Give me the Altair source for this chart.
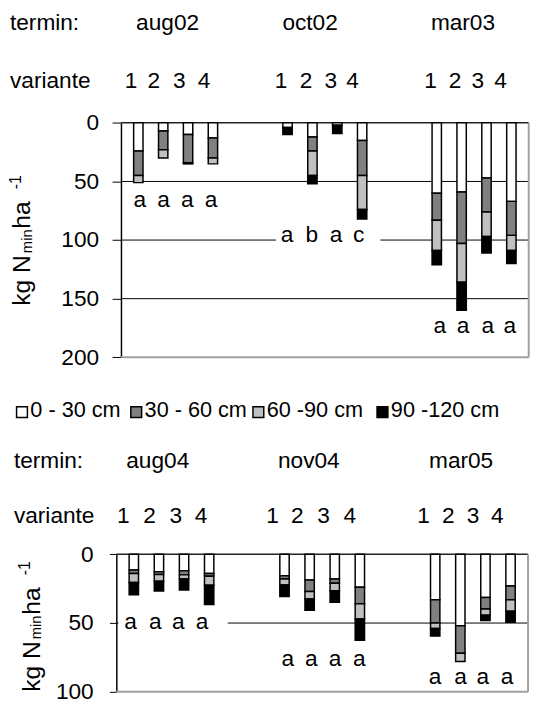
import altair as alt
import pandas as pd

# ---------------- data ----------------
depths = ["0 - 30 cm", "30 - 60 cm", "60 -90 cm", "90 -120 cm"]
depth_colors = ["#ffffff", "#808080", "#c0c0c0", "#000000"]
variants = [1, 2, 3, 4]

top_termine = ["aug02", "oct02", "mar03"]
aug02 = [[24, 21, 6, 0], [7, 16, 7, 0], [10, 24, 0, 1], [13, 17, 5, 0]]
oct02 = [[4, 0, 0, 6], [12, 12, 21, 7], [2, 0, 0, 7], [15, 30, 29, 8]]
mar03 = [[60, 23, 26, 12], [59, 44, 33, 24], [47, 29, 21, 14], [67, 29, 13, 11]]
top_letters = [["a", "a", "a", "a"], ["a", "b", "a", "c"], ["a", "a", "a", "a"]]

bottom_termine = ["aug04", "nov04", "mar05"]
aug04 = [[11.5, 2.5, 6.5, 9], [12.7, 2, 5, 7], [12, 3, 3, 8], [14, 2, 6.5, 14]]
nov04 = [[15.6, 2.4, 4.3, 8.4], [18.7, 8.4, 5.5, 8.2], [18, 3, 5.5, 8.4], [24, 12, 11, 15.5]]
mar05 = [[33, 17, 4, 5.5], [52, 20, 6, 0], [31.4, 8.4, 4.6, 3.8], [23, 10, 8.5, 8]]
bottom_letters = [["a", "a", "a", "a"], ["a", "a", "a", "a"], ["a", "a", "a", "a"]]

top_ticks = [0, 50, 100, 150, 200]
bottom_ticks = [0, 50, 100]

# ---------------- layout (annotation placement) ----------------
FONT = "Liberation Sans"
FS = 23
LEG_FS = 22
W, H = 414, 694
TOP_X = alt.Scale(domain=[0, 16], range=[0, 414], nice=False, zero=False)
BOT_X = alt.Scale(domain=[0, 16], range=[-4.7, 413.3], nice=False, zero=False)
TOP_Y = alt.Scale(domain=[0, 200], range=[111.3, 349.3], nice=False, zero=False)
BOT_Y = alt.Scale(domain=[0, 100], range=[549.3, 689], nice=False, zero=False)

top_head = dict(termin_y=17.5, variante_y=76, row_x=-112.7,
                label_x=[1.83, 7.42, 13.42],
                digit_x=[0.40, 1.29, 2.29, 3.26, 6.28, 7.26, 8.23, 9.09, 12.15, 13.11, 14.0, 14.89],
                letter_x=[0.74, 1.67, 2.60, 3.53, 6.52, 7.49, 8.44, 9.33, 12.51, 13.42, 14.39, 15.26],
                letter_y=[66] * 4 + [95.5] * 4 + [173] * 4)
bot_head = dict(termin_y=462, variante_y=517.5, row_x=-108.7,
                label_x=[1.61, 7.48, 13.40],
                digit_x=[0.27, 1.29, 2.31, 3.29, 6.07, 7.03, 8.05, 9.07, 11.94, 12.90, 13.86, 14.81],
                letter_x=[0.55, 1.51, 2.41, 3.33, 6.66, 7.58, 8.50, 9.44, 12.39, 13.38, 14.24, 15.18],
                letter_y=[49.5] * 4 + [76.5] * 4 + [89] * 4)

legend_sym_x = [-106, 10, 134, 260]
legend_sym_size = 11
legend_sym_y = 399.5
legend_label_gap = 3
legend_label_y = 410.3

fill_scale = alt.Scale(domain=depths, range=depth_colors)


def bars_df(termine, groups):
    rows = []
    for g, (term, vals) in enumerate(zip(termine, groups)):
        for v, segs in zip(variants, vals):
            cum = 0
            for d, seg in zip(depths, segs):
                if seg > 0:
                    rows.append(dict(termin=term, variante=v, depth=d, value=seg,
                                     y0=cum, y1=cum + seg, pos=g * 6 + v - 0.5))
                cum += seg
    return pd.DataFrame(rows)


def frame_df(ymax, grid):
    rows = [dict(x=0, x2=16, y=g, y2=g, c="#000000", w=1) for g in grid]
    rows += [dict(x=0, x2=16, y=0, y2=0, c="#222222", w=1.5),
             dict(x=0, x2=16, y=ymax, y2=ymax, c="#a0a0a0", w=2),
             dict(x=16, x2=16, y=0, y2=ymax, c="#a0a0a0", w=2)]
    return pd.DataFrame(rows)


def panel(termine, groups, letters, head, xs, ys, ticks, ymax, grid, tick_size, label_pad, offset, box):
    frame = alt.Chart(frame_df(ymax, grid)).mark_rule().encode(
        x=alt.X("x:Q", scale=xs, axis=None), x2="x2:Q",
        y=alt.Y("y:Q", scale=ys, axis=None), y2="y2:Q",
        color=alt.Color("c:N", scale=None),
        strokeWidth=alt.StrokeWidth("w:Q", scale=None))
    boxes = alt.Chart(pd.DataFrame([box])).mark_rect(fill="white").encode(
        x=alt.X("x:Q", scale=xs, axis=None), x2="x2:Q",
        y=alt.Y("y:Q", scale=ys, axis=None), y2="y2:Q")
    bars = alt.Chart(bars_df(termine, groups)).mark_bar(width=9.5, stroke="black", strokeWidth=1.5).encode(
        x=alt.X("pos:Q", scale=xs, axis=None),
        y=alt.Y("y0:Q", scale=ys, axis=alt.Axis(
            orient="left", values=ticks, grid=False, domainColor="black", domainWidth=1.5,
            tickColor="black", tickSize=tick_size, tickWidth=1, labelFont=FONT, labelFontSize=FS,
            labelColor="black", labelPadding=label_pad, offset=offset, title=None)),
        y2="y1:Q",
        fill=alt.Fill("depth:N", scale=fill_scale, legend=None),
        tooltip=["termin:N", "variante:O", "depth:N", "value:Q"])
    flat_letters = [l for grp in letters for l in grp]
    let_df = pd.DataFrame(dict(t=flat_letters, x=head["letter_x"], y=head["letter_y"]))
    lets = alt.Chart(let_df).mark_text(font=FONT, fontSize=FS, color="black", baseline="middle").encode(
        x=alt.X("x:Q", scale=xs, axis=None), y=alt.Y("y:Q", scale=ys, axis=None), text="t:N")
    hdr_rows = [dict(t=term, x=lx, y=head["termin_y"]) for term, lx in zip(termine, head["label_x"])]
    hdr_rows += [dict(t=str(v), x=dx, y=head["variante_y"])
                 for v, dx in zip(variants * 3, head["digit_x"])]
    hdr = alt.Chart(pd.DataFrame(hdr_rows)).mark_text(font=FONT, fontSize=FS, color="black",
                                                      baseline="alphabetic").encode(
        x=alt.X("x:Q", scale=xs, axis=None), y=alt.Y("y:Q", scale=None, axis=None), text="t:N")
    row_df = pd.DataFrame([dict(t="termin:", x=head["row_x"], y=head["termin_y"]),
                           dict(t="variante", x=head["row_x"], y=head["variante_y"])])
    rowt = alt.Chart(row_df).mark_text(font=FONT, fontSize=FS, color="black", align="left",
                                       baseline="alphabetic").encode(
        x=alt.X("x:Q", scale=None, axis=None), y=alt.Y("y:Q", scale=None, axis=None), text="t:N")
    return [frame, boxes, bars, lets, hdr, rowt]


top_layers = panel(top_termine, [aug02, oct02, mar03], top_letters, top_head, TOP_X, TOP_Y,
                   top_ticks, 200, [50, 100, 150], 9, 13.7, 0,
                   dict(x=6.08, x2=10.18, y=89, y2=104))
bot_layers = panel(bottom_termine, [aug04, nov04, mar05], bottom_letters, bot_head, BOT_X, BOT_Y,
                   bottom_ticks, 100, [50], 7, 16.5, 4.7,
                   dict(x=0.08, x2=4.33, y=43, y2=56))

# legend (custom, between the two panels)
leg_sym = pd.DataFrame(dict(depth=depths, x=legend_sym_x,
                            x2=[v + legend_sym_size for v in legend_sym_x],
                            y=[legend_sym_y] * 4, y2=[legend_sym_y + legend_sym_size] * 4))
legend_symbols = alt.Chart(leg_sym).mark_rect(stroke="black", strokeWidth=1.5).encode(
    x=alt.X("x:Q", scale=None, axis=None), x2="x2:Q",
    y=alt.Y("y:Q", scale=None, axis=None), y2="y2:Q",
    fill=alt.Fill("depth:N", scale=fill_scale, legend=None))
leg_lab = pd.DataFrame(dict(t=depths, x=[v + legend_sym_size + legend_label_gap for v in legend_sym_x],
                            y=[legend_label_y] * 4))
legend_labels = alt.Chart(leg_lab).mark_text(font=FONT, fontSize=LEG_FS, color="black", align="left",
                                             baseline="alphabetic").encode(
    x=alt.X("x:Q", scale=None, axis=None), y=alt.Y("y:Q", scale=None, axis=None), text="t:N")

# axis titles "kg N_min ha^-1" built from pieces (rotated)
title_pieces = [("kg N", -92, 297, 25), ("min", -90.5, 243.6, 15), ("ha", -92, 218.7, 25), ("-1", -101.5, 178.7, 16)]
title_rows = [dict(t=t, x=x, y=y, s=s) for t, x, y, s in title_pieces]
title_rows += [dict(t=t, x=x + 9.3, y=y + 392, s=s) for t, x, y, s in title_pieces]
titles = alt.Chart(pd.DataFrame(title_rows)).mark_text(
    font=FONT, color="black", angle=270, align="left", baseline="alphabetic").encode(
    x=alt.X("x:Q", scale=None, axis=None), y=alt.Y("y:Q", scale=None, axis=None),
    text="t:N", size=alt.Size("s:Q", scale=None, legend=None))

chart = alt.layer(*top_layers, *bot_layers, legend_symbols, legend_labels, titles).resolve_scale(
    x="independent", y="independent"
).properties(
    width=W, height=H, autosize="none",
    padding={"left": 114.7, "top": 0, "right": 1.3, "bottom": 0},
    background="white",
).configure_view(strokeWidth=0)

chart.save("out.html", embed_options={"renderer": "svg", "actions": False})
